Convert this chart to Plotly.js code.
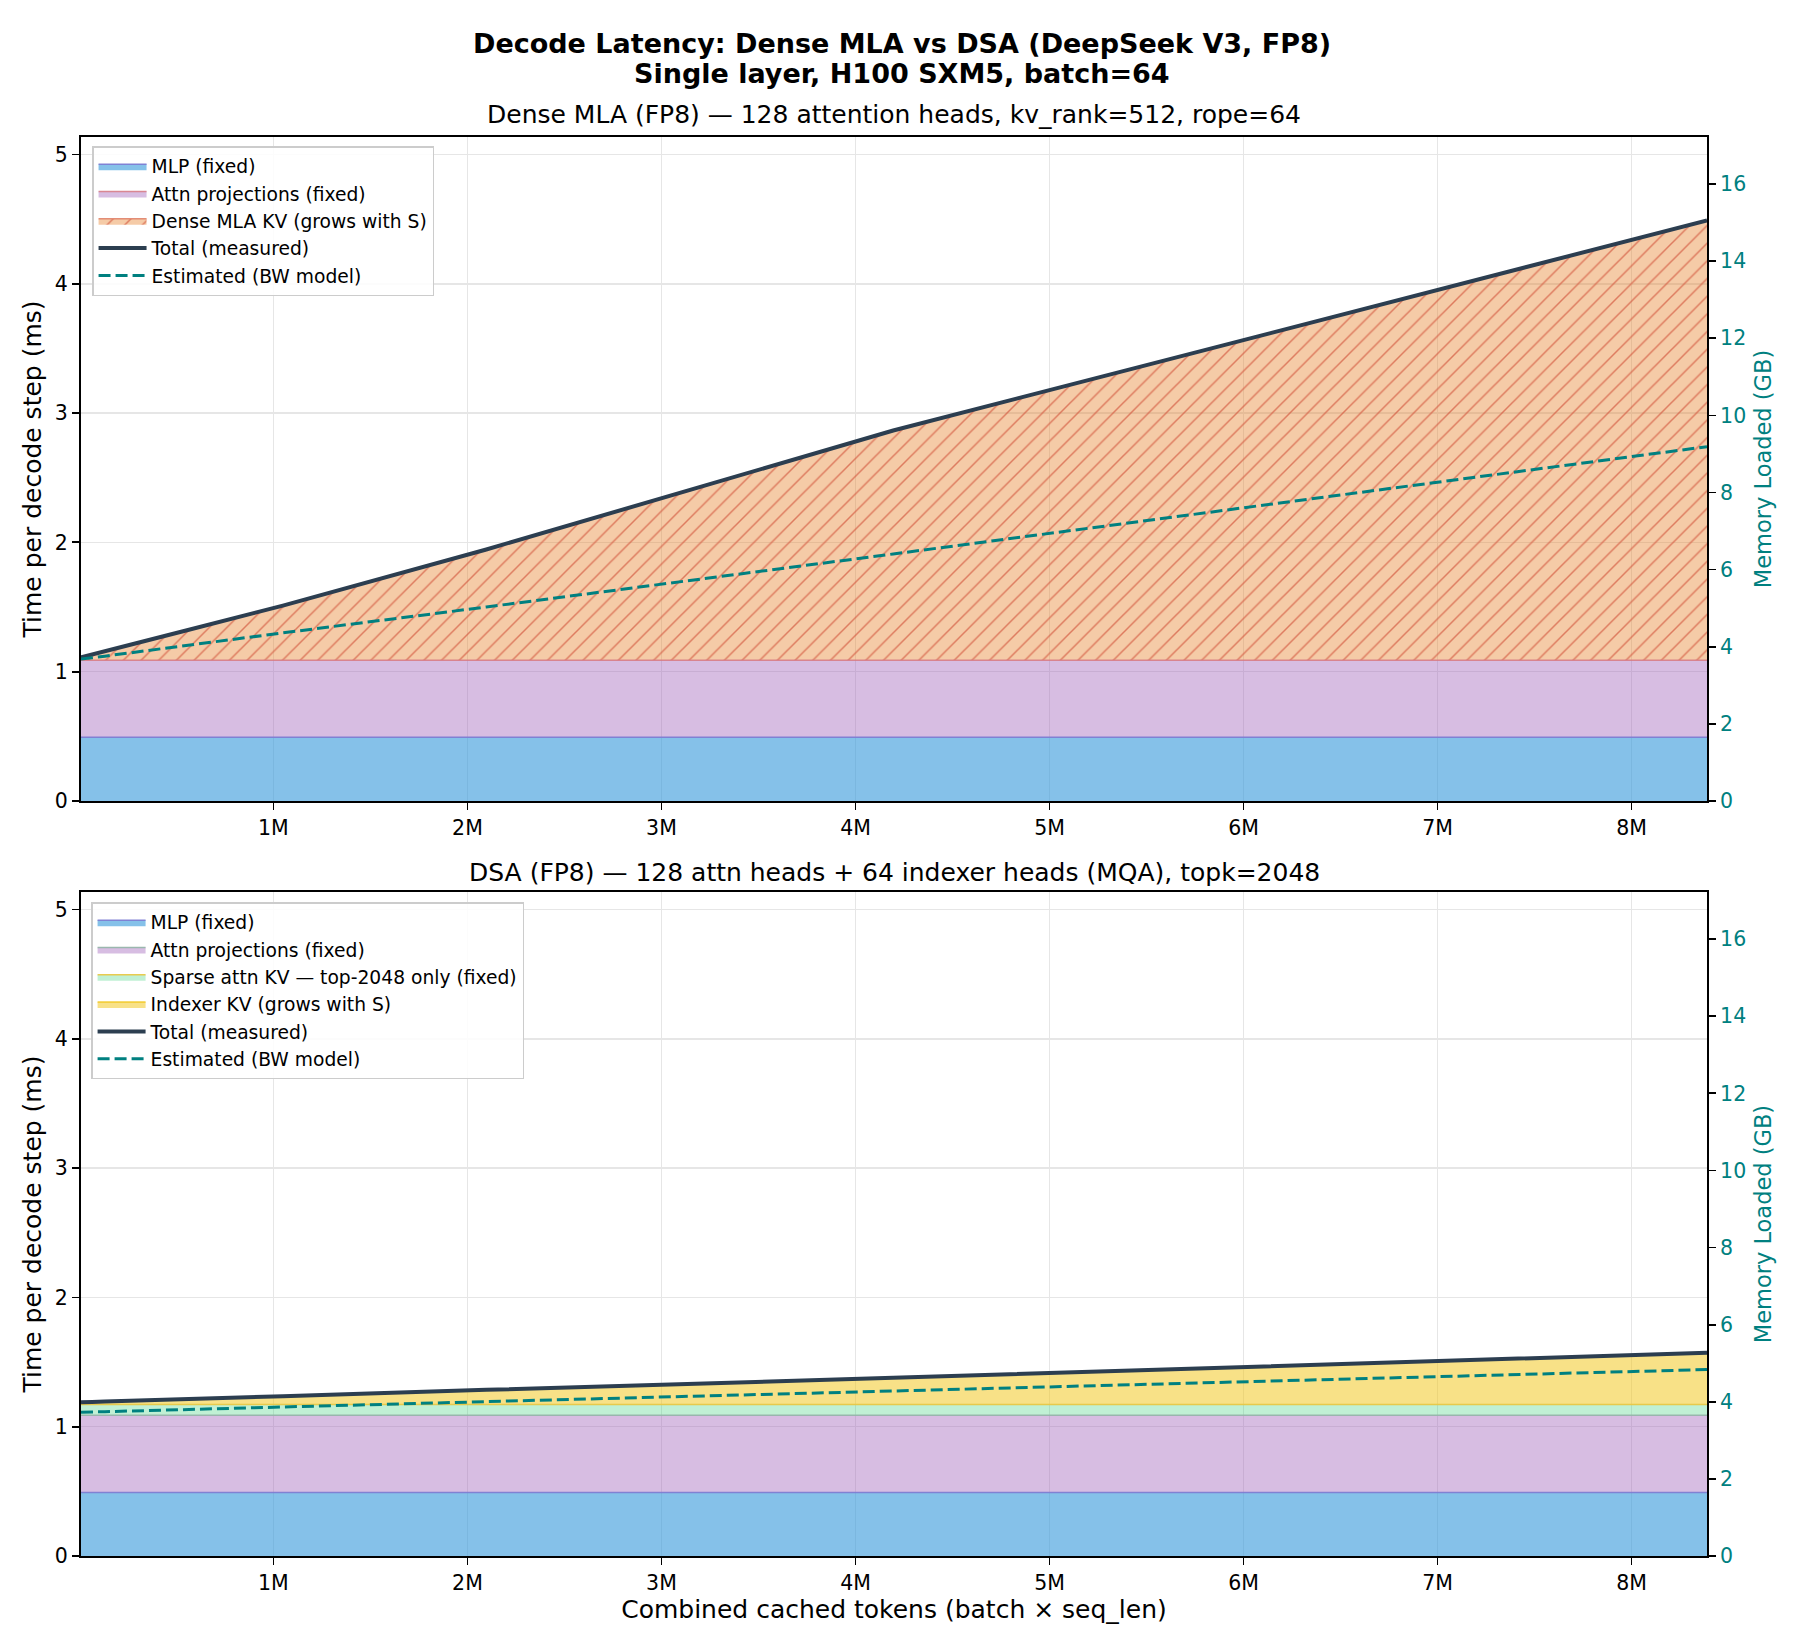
<!DOCTYPE html>
<html>
<head>
<meta charset="utf-8">
<script src="https://cdn.plot.ly/plotly-3.0.1.min.js"></script>
<style>html,body{margin:0;padding:0;background:#fff;}</style>
</head>
<body>
<div id="chart" style="width:1800px;height:1650px;"></div>
<script>
// ---- Data ----
const tokens = [8192, 16384, 32768, 65536, 131072, 262144, 524288, 1048576, 2097152, 4194304, 8388608];
const tickVals = [1000000, 2000000, 3000000, 4000000, 5000000, 6000000, 7000000, 8000000];
const tickText = ['1M', '2M', '3M', '4M', '5M', '6M', '7M', '8M'];
const memTicks = [0, 2, 4, 6, 8, 10, 12, 14, 16];

// Dense MLA (ms)
const denseMlp   = [0.492, 0.492, 0.492, 0.492, 0.492, 0.492, 0.492, 0.492, 0.492, 0.492, 0.492];
const denseAttn  = [0.596, 0.596, 0.596, 0.596, 0.596, 0.596, 0.596, 0.596, 0.596, 0.596, 0.596];
const denseKv    = [0.023, 0.026, 0.032, 0.045, 0.070, 0.120, 0.221, 0.423, 0.857, 1.777, 3.402];
const denseTotal = [1.111, 1.114, 1.120, 1.133, 1.158, 1.208, 1.309, 1.511, 1.945, 2.865, 4.490];
const denseEst   = [1.097, 1.098, 1.101, 1.107, 1.120, 1.146, 1.197, 1.300, 1.500, 1.910, 2.740];

// DSA (ms)
const dsaMlp     = [0.492, 0.492, 0.492, 0.492, 0.492, 0.492, 0.492, 0.492, 0.492, 0.492, 0.492];
const dsaAttn    = [0.596, 0.596, 0.596, 0.596, 0.596, 0.596, 0.596, 0.596, 0.596, 0.596, 0.596];
const dsaSparse  = [0.083, 0.083, 0.083, 0.083, 0.083, 0.083, 0.083, 0.083, 0.083, 0.083, 0.083];
const dsaIndexer = [0.018, 0.019, 0.019, 0.021, 0.024, 0.029, 0.042, 0.065, 0.114, 0.207, 0.401];
const dsaTotal   = [1.189, 1.190, 1.190, 1.192, 1.195, 1.200, 1.213, 1.236, 1.285, 1.378, 1.572];
const dsaEst     = [1.111, 1.112, 1.112, 1.114, 1.116, 1.121, 1.132, 1.152, 1.194, 1.276, 1.442];

const FONT = 'DejaVu Sans';
const TEAL = '#008080';

function area(y, name, fill, lineColor, xa, ya, leg, group, pattern) {
  const t = {
    x: tokens, y: y, name: name, type: 'scatter', mode: 'lines',
    stackgroup: group, fillcolor: fill,
    line: {color: lineColor, width: 1.5},
    xaxis: xa, yaxis: ya, legend: leg, hoverinfo: 'skip'
  };
  if (pattern) t.fillpattern = pattern;
  return t;
}
function line(y, name, color, width, dash, xa, ya, leg) {
  return {x: tokens, y: y, name: name, type: 'scatter', mode: 'lines',
    line: {color: color, width: width, dash: dash},
    xaxis: xa, yaxis: ya, legend: leg, hoverinfo: 'skip'};
}
// invisible carrier so the right-hand memory axis is drawn
function carrier(xa, ya) {
  return {x: tokens, y: memTicks.slice(0, tokens.length), type: 'scatter', mode: 'lines',
    line: {width: 0, color: 'rgba(0,0,0,0)'}, opacity: 0, showlegend: false,
    xaxis: xa, yaxis: ya, hoverinfo: 'skip'};
}

const hatch = {shape: '/', bgcolor: 'rgba(230,126,34,0.4)', fgcolor: 'rgba(214,96,70,0.75)', size: 12.5, solidity: 0.12};

const traces = [
  carrier('x', 'y3'),
  carrier('x2', 'y4'),
  area(denseMlp, 'MLP (fixed)', 'rgba(52,152,219,0.6)', 'rgba(125,125,210,0.95)', 'x', 'y', 'legend', 'dense'),
  area(denseAttn, 'Attn projections (fixed)', 'rgba(155,89,182,0.4)', 'rgba(214,120,130,0.85)', 'x', 'y', 'legend', 'dense'),
  area(denseKv, 'Dense MLA KV (grows with S)', 'rgba(230,126,34,0.4)', 'rgba(224,130,105,0.9)', 'x', 'y', 'legend', 'dense', hatch),
  line(denseTotal, 'Total (measured)', '#2C3E50', 4, 'solid', 'x', 'y', 'legend'),
  line(denseEst, 'Estimated (BW model)', TEAL, 3, '12px,5px', 'x', 'y', 'legend'),

  area(dsaMlp, 'MLP (fixed)', 'rgba(52,152,219,0.6)', 'rgba(125,125,210,0.95)', 'x2', 'y2', 'legend2', 'dsa'),
  area(dsaAttn, 'Attn projections (fixed)', 'rgba(155,89,182,0.4)', 'rgba(150,180,170,0.95)', 'x2', 'y2', 'legend2', 'dsa'),
  area(dsaSparse, 'Sparse attn KV — top-2048 only (fixed)', 'rgba(46,204,113,0.3)', 'rgba(232,200,70,0.95)', 'x2', 'y2', 'legend2', 'dsa'),
  area(dsaIndexer, 'Indexer KV (grows with S)', 'rgba(241,196,15,0.5)', 'rgba(241,196,15,0.8)', 'x2', 'y2', 'legend2', 'dsa'),
  line(dsaTotal, 'Total (measured)', '#2C3E50', 4, 'solid', 'x2', 'y2', 'legend2'),
  line(dsaEst, 'Estimated (BW model)', TEAL, 3, '12px,5px', 'x2', 'y2', 'legend2')
];

const xBase = {
  range: [8192, 8388608], tickvals: tickVals, ticktext: tickText,
  showgrid: true, gridcolor: '#E6E6E6', gridwidth: 1.5,
  showline: true, linecolor: '#000', linewidth: 2, mirror: true,
  ticks: 'outside', ticklen: 7, tickwidth: 1.7, tickcolor: '#000',
  tickfont: {family: FONT, size: 20.5, color: '#000'}, zeroline: false
};
const yBase = {
  range: [0, 5.135], tickvals: [0, 1, 2, 3, 4, 5],
  showgrid: true, gridcolor: '#E6E6E6', gridwidth: 1.5,
  showline: true, linecolor: '#000', linewidth: 2,
  ticks: 'outside', ticklen: 7, tickwidth: 1.7, tickcolor: '#000',
  tickfont: {family: FONT, size: 20.5, color: '#000'}, zeroline: false,
  title: {text: 'Time per decode step (ms)', font: {family: FONT, size: 25, color: '#000'}, standoff: 6}
};
const yRight = {
  range: [0, 17.22], tickvals: memTicks,
  showgrid: false, showline: true, linecolor: '#000', linewidth: 2,
  ticks: 'outside', ticklen: 7, tickwidth: 1.7, tickcolor: '#000',
  tickfont: {family: FONT, size: 20.5, color: TEAL}, zeroline: false, side: 'right',
  title: {text: 'Memory Loaded (GB)', font: {family: FONT, size: 22.5, color: TEAL}, standoff: 10}
};

const legBase = {
  xanchor: 'left', yanchor: 'top', bgcolor: 'rgba(255,255,255,0.85)',
  bordercolor: '#CCCCCC', borderwidth: 1.5, itemwidth: 48,
  font: {family: FONT, size: 18.7, color: '#000'}, traceorder: 'normal'
};

// paper y for a pixel row (plot area spans rows 137..1556)
function py(px) { return (1556 - px) / 1419; }

const layout = {
  width: 1800, height: 1650,
  margin: {l: 81, r: 93, t: 137, b: 94, pad: 0},
  paper_bgcolor: '#fff', plot_bgcolor: 'rgba(0,0,0,0)',
  font: {family: FONT, color: '#000'},
  showlegend: true,
  xaxis: Object.assign({}, xBase, {domain: [0, 1], anchor: 'y'}),
  yaxis: Object.assign({}, yBase, {domain: [0.5321, 1], anchor: 'x'}),
  yaxis3: Object.assign({}, yRight, {overlaying: 'y', anchor: 'x'}),
  xaxis2: Object.assign({}, xBase, {domain: [0, 1], anchor: 'y2',
    title: {text: 'Combined cached tokens (batch × seq_len)', font: {family: FONT, size: 25, color: '#000'}, standoff: 6}}),
  yaxis2: Object.assign({}, yBase, {domain: [0, 0.4679], anchor: 'x2'}),
  yaxis4: Object.assign({}, yRight, {overlaying: 'y2', anchor: 'x2'}),
  legend: Object.assign({}, legBase, {x: 0.0068, y: py(146)}),
  legend2: Object.assign({}, legBase, {x: 0.0062, y: py(902)}),
  annotations: [
    {text: '<b>Decode Latency: Dense MLA vs DSA (DeepSeek V3, FP8)</b>', xref: 'paper', yref: 'paper',
     x: 0.5048, y: py(44), xanchor: 'center', yanchor: 'middle', showarrow: false,
     font: {family: FONT, size: 27, color: '#000'}},
    {text: '<b>Single layer, H100 SXM5, batch=64</b>', xref: 'paper', yref: 'paper',
     x: 0.5048, y: py(74), xanchor: 'center', yanchor: 'middle', showarrow: false,
     font: {family: FONT, size: 27, color: '#000'}},
    {text: 'Dense MLA (FP8) — 128 attention heads, kv_rank=512, rope=64', xref: 'paper', yref: 'paper',
     x: 0.5, y: py(115), xanchor: 'center', yanchor: 'middle', showarrow: false,
     font: {family: FONT, size: 25, color: '#000'}},
    {text: 'DSA (FP8) — 128 attn heads + 64 indexer heads (MQA), topk=2048', xref: 'paper', yref: 'paper',
     x: 0.5, y: py(872), xanchor: 'center', yanchor: 'middle', showarrow: false,
     font: {family: FONT, size: 25, color: '#000'}}
  ]
};

Plotly.newPlot('chart', traces, layout, {staticPlot: true, displayModeBar: false});
</script>
</body>
</html>
